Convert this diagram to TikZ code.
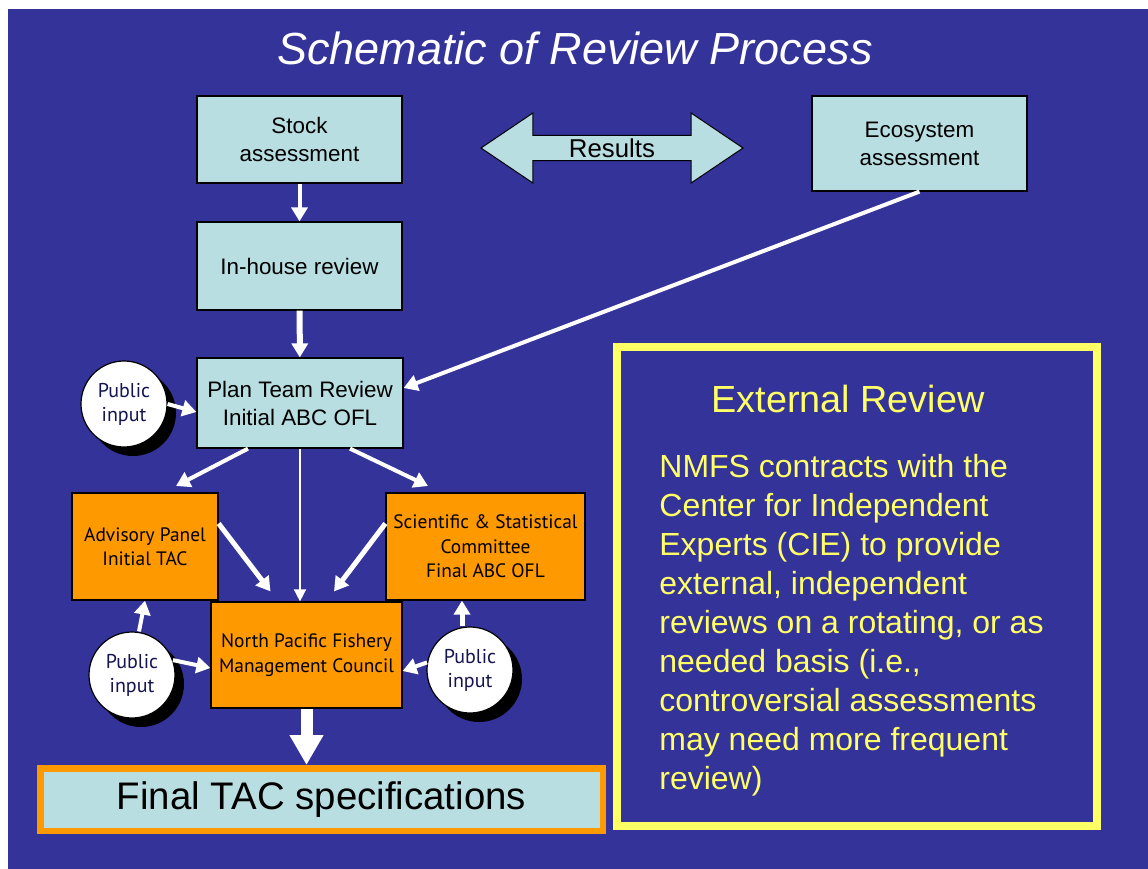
\documentclass[tikz,border=0pt]{standalone}
\usepackage{fontspec}
\setmainfont{Liberation Sans}
\newfontfamily\tahoma{PT Sans}
\usetikzlibrary{arrows.meta,shapes.arrows,shadows}
\definecolor{slideblue}{HTML}{333399}
\definecolor{paleteal}{HTML}{B8DEE2}
\definecolor{slideorange}{HTML}{FF9900}
\definecolor{slideyellow}{HTML}{FFFF66}
\definecolor{inkblue}{HTML}{141450}
\tikzset{
  box/.style={draw=black, line width=0.6pt, fill=paleteal, align=center,
    inner sep=0pt, font=\fontsize{11.2}{14}\selectfont},
  orangebox/.style={draw=black, line width=0.6pt, fill=slideorange, align=center,
    inner sep=0pt, font=\tahoma\fontsize{9.7}{12.2}\selectfont},
  pubcircle/.style={circle, draw=black, line width=0.6pt, fill=white, minimum size=43pt,
    inner sep=0pt, align=center, text=inkblue, font=\tahoma\fontsize{10}{12}\selectfont,
    drop shadow={shadow xshift=4.5pt, shadow yshift=-4.5pt, fill=black, opacity=1}},
  arr/.style={draw=white, line width=2pt, -{Triangle[width=8pt,length=7pt]}},
}
\begin{document}
\begin{tikzpicture}[x=0.5pt, y=-0.5pt]
  \useasboundingbox (0,0) rectangle (1148,869);
  \fill[white] (0,0) rectangle (1148,869);
  \fill[slideblue] (8,9) rectangle (1148,869);
  \node (title) [text=white, font=\itshape\fontsize{22.5}{27}\selectfont, anchor=base] at (575,64)
    {Schematic of Review Process};
  % assessment boxes
  \node (SA) [box, minimum width=102.5pt, minimum height=43.5pt] at (299.5,139.5) {Stock\\assessment};
  \node (IR) [box, minimum width=102.5pt, minimum height=44pt] at (299.5,266) {In-house review};
  \node (PT) [box, minimum width=103pt, minimum height=45pt] at (300,403) {Plan Team Review\\Initial ABC OFL};
  \node (EA) [box, minimum width=107.5pt, minimum height=47.5pt] at (919.5,143.5) {Ecosystem\\assessment};
  \node (RS) [double arrow, draw=black, line width=0.5pt, fill=paleteal, inner sep=0pt,
    minimum height=131pt, minimum width=35pt, double arrow head extend=8.75pt,
    double arrow tip angle=68, font=\fontsize{12.9}{15}\selectfont] at (612,148) {Results};
  % council level
  \node (AP) [orangebox, minimum width=73pt, minimum height=53.5pt] at (145,546.5) {Advisory Panel\\Initial TAC};
  \node (SSC) [orangebox, minimum width=99.5pt, minimum height=53.5pt] at (485.5,546.5)
    {Scientific \& Statistical\\Committee\\Final ABC OFL};
  \node (NP) [orangebox, minimum width=95.5pt, minimum height=53pt] at (306.5,655)
    {North Pacific Fishery\\Management Council};
  \node (PI1) [pubcircle] at (124,404) {Public\\input};
  \node (PI2) [pubcircle] at (132,675) {Public\\input};
  \node (PI3) [pubcircle] at (470,670) {Public\\input};
  \node (FT) [draw=slideorange, line width=3.25pt, fill=paleteal, minimum width=281.25pt,
    minimum height=31.25pt, inner sep=0pt, font=\fontsize{19.2}{23}\selectfont] at (321.5,799.5)
    {Final TAC specifications};
  % external review panel
  \node (ER) [draw=slideyellow, line width=4pt, minimum width=240pt, minimum height=239.5pt,
    inner sep=0pt] at (857,586.5) {};
  \node (ERT) [text=slideyellow, font=\fontsize{18.9}{23}\selectfont, anchor=base] at (848,412)
    {External Review};
  \node (ERB) [text=slideyellow, align=left, anchor=north west, inner sep=0pt,
    font=\fontsize{16}{19.5}\selectfont] at (659,454)
    {NMFS contracts with the\\Center for Independent\\Experts (CIE) to provide\\external, independent\\
     reviews on a rotating, or as\\needed basis (i.e.,\\controversial assessments\\may need more frequent\\review)};
  % connectors
  \draw[arr] (SA) -- (IR);
  \draw[arr, line width=3pt] (IR) -- (PT);
  \draw[arr] (EA.south) -- ([yshift=7.5pt]PT.east);
  \draw[arr] ([xshift=-26pt]PT.south) -- (176,486);
  \draw[arr] ([xshift=25pt]PT.south) -- (428,486);
  \draw[arr, line width=0.75pt, -{Triangle[width=6pt,length=6pt]}] (PT.south) -- (PT.south |- NP.north);
  \draw[arr, line width=2.5pt] ([yshift=11.5pt]AP.east) -- ([xshift=-18pt,yshift=5pt]NP.north);
  \draw[arr, line width=2.5pt] ([yshift=11.5pt]SSC.west) -- ([xshift=13.75pt,yshift=5pt]NP.north);
  \draw[arr] (PI1.east) -- ([yshift=-4.5pt]PT.west);
  \draw[arr] ([xshift=3.5pt]PI2.north) -- (AP.south);
  \draw[arr] (PI2.20) -- ([yshift=-6.5pt]NP.west);
  \draw[arr, line width=2.5pt] ([xshift=-4pt]PI3.north) -- ([xshift=-4pt]PI3.north |- SSC.south);
  \draw[arr] (PI3.170) -- ([yshift=-8pt]NP.east);
  \draw[arr, line width=6pt, -{Triangle[width=16pt,length=15pt]}] (NP) -- (NP.south |- FT.north);
\end{tikzpicture}
\end{document}
